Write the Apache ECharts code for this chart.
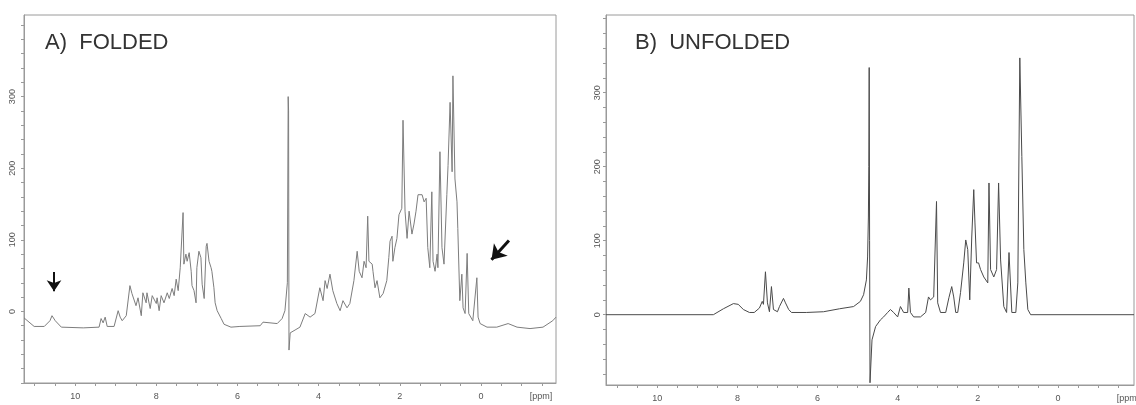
<!DOCTYPE html>
<html>
<head>
<meta charset="utf-8">
<script src="https://cdn.jsdelivr.net/npm/echarts@6/dist/echarts.min.js"></script>
<style>
  html, body { margin: 0; padding: 0; background: #fff; }
  #nmr { width: 1136px; height: 405px; }
</style>
</head>
<body>
<div id="nmr"></div>
<script>
var chartDom = document.getElementById('nmr');
var myChart = echarts.init(chartDom);
var option;

// panel titles
var titles = ['A)  FOLDED', 'B)  UNFOLDED'];

// tick labels (ppm and intensity)
var ppmLabels = [10, 8, 6, 4, 2, 0];
var ppmTicks = [-1.5, -1, -0.5, 0, 0.5, 1, 1.5, 2, 2.5, 3, 3.5, 4, 4.5, 5, 5.5, 6, 6.5, 7, 7.5, 8, 8.5, 9, 9.5, 10, 10.5, 11];
var intLabels = [0, 100, 200, 300];
var intTicks = [-100, -80, -60, -40, -20, 0, 20, 40, 60, 80, 100, 120, 140, 160, 180, 200, 220, 240, 260, 280, 300, 320, 340, 360, 380, 400];
var unitLabel = '[ppm]';

// A) folded spectrum, [ppm, intensity]
var foldedData = [
  [11.26, -9], [11.01, -21], [10.76, -21], [10.62, -13], [10.57, -6], [10.49, -13], [10.34, -22],
  [9.8, -23], [9.41, -22], [9.36, -10], [9.31, -16], [9.26, -8], [9.21, -21], [9.04, -21],
  [8.94, 1], [8.89, -8], [8.84, -13], [8.74, -6], [8.65, 36], [8.6, 25], [8.5, 8], [8.45, 19],
  [8.37, -6], [8.33, 26], [8.25, 12], [8.23, 26], [8.15, 4], [8.1, 22], [8.0, 11], [7.98, 19],
  [7.93, 1], [7.88, 22], [7.81, 12], [7.73, 26], [7.68, 18], [7.61, 32], [7.56, 22], [7.51, 45],
  [7.46, 29], [7.41, 61], [7.37, 60], [7.34, 138], [7.32, 66], [7.27, 80], [7.24, 70], [7.19, 82],
  [7.14, 56], [7.12, 36], [7.07, 29], [7.02, 12], [7.0, 61], [6.95, 84], [6.9, 75], [6.87, 38],
  [6.82, 18], [6.77, 91], [6.75, 95], [6.7, 70], [6.65, 61], [6.63, 56], [6.58, 33], [6.55, 12],
  [6.5, 1], [6.4, -10], [6.33, -18], [6.16, -22], [5.94, -21], [5.44, -20], [5.37, -15], [5.02, -17],
  [4.9, -10], [4.83, 1], [4.77, 40], [4.75, 300], [4.74, 280], [4.73, -54], [4.7, -30], [4.58, -26],
  [4.46, -22], [4.33, -3], [4.21, -8], [4.09, -3], [3.97, 33], [3.89, 15], [3.84, 43], [3.79, 32],
  [3.72, 52], [3.65, 29], [3.55, 11], [3.47, 1], [3.4, 15], [3.3, 5], [3.23, 11], [3.13, 43],
  [3.05, 84], [3.0, 56], [2.93, 47], [2.88, 70], [2.83, 61], [2.79, 133], [2.76, 70], [2.68, 66],
  [2.66, 56], [2.61, 33], [2.56, 43], [2.49, 19], [2.41, 25], [2.32, 43], [2.27, 75], [2.24, 98],
  [2.19, 105], [2.17, 70], [2.12, 89], [2.07, 102], [2.02, 135], [1.95, 144], [1.92, 267], [1.87, 140],
  [1.82, 102], [1.77, 140], [1.7, 108], [1.65, 122], [1.6, 140], [1.55, 163], [1.45, 163], [1.4, 153],
  [1.35, 158], [1.31, 89], [1.26, 61], [1.21, 167], [1.18, 70], [1.13, 56], [1.08, 80], [1.06, 61],
  [1.01, 223], [0.96, 89], [0.91, 66], [0.84, 163], [0.81, 204], [0.76, 292], [0.71, 195], [0.69, 329],
  [0.64, 185], [0.59, 153], [0.57, 116], [0.52, 15], [0.47, 52], [0.44, 5], [0.39, -3], [0.34, 81],
  [0.3, -3], [0.2, -13], [0.1, 47], [0.07, -8], [0.02, -17], [-0.15, -22], [-0.39, -22], [-0.67, -17],
  [-0.89, -22], [-1.21, -24], [-1.53, -22], [-1.77, -13], [-1.85, -8]
];

// B) unfolded spectrum, [ppm, intensity]
var unfoldedData = [
  [11.28, 0], [8.6, 0], [8.35, 8], [8.1, 15], [7.98, 14], [7.85, 7], [7.7, 3], [7.58, 3],
  [7.45, 9], [7.38, 18], [7.35, 14], [7.3, 58], [7.25, 16], [7.2, 4], [7.15, 38], [7.1, 7],
  [7.0, 4], [6.95, 11], [6.85, 22], [6.8, 16], [6.72, 7], [6.65, 3], [6.28, 3], [5.85, 4],
  [5.45, 8], [5.1, 11], [4.93, 18], [4.85, 27], [4.78, 47], [4.75, 78], [4.73, 132], [4.72, 200],
  [4.71, 334], [4.7, 100], [4.69, -92], [4.64, -34], [4.55, -16], [4.43, -7], [4.35, -3], [4.25, 3],
  [4.18, 7], [4.1, 3], [4.0, -3], [3.93, 11], [3.85, 3], [3.75, 3], [3.72, 36], [3.68, 3],
  [3.6, -3], [3.43, -3], [3.3, 3], [3.23, 24], [3.18, 20], [3.1, 24], [3.03, 153], [3.0, 16],
  [2.93, 3], [2.8, 3], [2.72, 23], [2.65, 38], [2.6, 24], [2.55, 3], [2.5, 3], [2.43, 30],
  [2.35, 70], [2.3, 101], [2.25, 88], [2.2, 20], [2.15, 105], [2.1, 169], [2.07, 124], [2.03, 70],
  [1.98, 70], [1.93, 61], [1.85, 51], [1.75, 43], [1.72, 178], [1.68, 61], [1.6, 51], [1.53, 61],
  [1.48, 178], [1.43, 74], [1.35, 11], [1.28, 3], [1.22, 84], [1.15, 3], [1.05, 3], [1.0, 43],
  [0.95, 347], [0.9, 214], [0.85, 88], [0.8, 43], [0.75, 7], [0.68, 0], [-1.9, 0]
];

// arrows in panel A, [from, to] in data coords
var arrowSmall = [[10.52, 55], [10.52, 28]];
var arrowBig = [[-0.69, 99], [-0.26, 72]];

var axisColor = '#9a9a9a';
var labelColor = '#555';

function makeXAxis(gridIndex, min, max, unitPos) {
  return {
    type: 'value',
    gridIndex: gridIndex,
    inverse: true,
    min: min,
    max: max,
    axisLine: { onZero: false, lineStyle: { color: axisColor, width: 1 } },
    axisTick: { customValues: ppmTicks, length: 3, lineStyle: { color: axisColor } },
    axisLabel: {
      customValues: ppmLabels.concat([unitPos]),
      margin: 9,
      fontSize: 9,
      fontFamily: 'Liberation Sans',
      color: labelColor,
      formatter: function (v) { return v < -1 ? unitLabel : String(v); }
    },
    splitLine: { show: false }
  };
}

function makeYAxis(gridIndex, min, max, margin) {
  return {
    type: 'value',
    gridIndex: gridIndex,
    min: min,
    max: max,
    axisLine: { show: true, onZero: false, lineStyle: { color: axisColor, width: 1 } },
    axisTick: { show: true, customValues: intTicks, length: 3, lineStyle: { color: axisColor } },
    axisLabel: {
      customValues: intLabels,
      rotate: 90,
      margin: margin,
      fontSize: 9,
      fontFamily: 'Liberation Sans',
      color: labelColor
    },
    splitLine: { show: false }
  };
}

option = {
  backgroundColor: '#fff',
  animation: false,
  title: [
    {
      text: titles[0], left: 45, top: 32, padding: 0,
      textStyle: { fontSize: 22, fontWeight: 'normal', fontFamily: 'Liberation Sans', color: '#333' }
    },
    {
      text: titles[1], left: 635, top: 32, padding: 0,
      textStyle: { fontSize: 22, fontWeight: 'normal', fontFamily: 'Liberation Sans', color: '#333' }
    }
  ],
  grid: [
    { left: 24, right: 580, top: 15, bottom: 22, show: true, borderColor: axisColor, borderWidth: 1, outerBoundsMode: 'none' },
    { left: 606, right: 2, top: 15, bottom: 20, show: true, borderColor: axisColor, borderWidth: 1, outerBoundsMode: 'none' }
  ],
  xAxis: [
    makeXAxis(0, -1.85, 11.26, -1.48),
    makeXAxis(1, -1.9, 11.28, -1.75)
  ],
  yAxis: [
    makeYAxis(0, -100, 414, 7),
    makeYAxis(1, -95, 405, 4)
  ],
  series: [
    {
      name: 'folded',
      type: 'line',
      xAxisIndex: 0,
      yAxisIndex: 0,
      data: foldedData,
      showSymbol: false,
      lineStyle: { color: '#7d7d7d', width: 1 },
      markLine: {
        silent: true,
        symbol: ['none', 'arrow'],
        label: { show: false },
        data: [
          [
            { coord: arrowSmall[0], symbolSize: 0 },
            { coord: arrowSmall[1], symbolSize: 11, lineStyle: { width: 2, color: '#111', type: 'solid' } }
          ],
          [
            { coord: arrowBig[0], symbolSize: 0 },
            { coord: arrowBig[1], symbolSize: 14, lineStyle: { width: 3, color: '#111', type: 'solid' } }
          ]
        ],
        lineStyle: { color: '#111', type: 'solid', width: 2 }
      }
    },
    {
      name: 'unfolded',
      type: 'line',
      xAxisIndex: 1,
      yAxisIndex: 1,
      data: unfoldedData,
      showSymbol: false,
      lineStyle: { color: '#4a4a4a', width: 1 }
    }
  ]
};

option && myChart.setOption(option);
</script>
</body>
</html>
